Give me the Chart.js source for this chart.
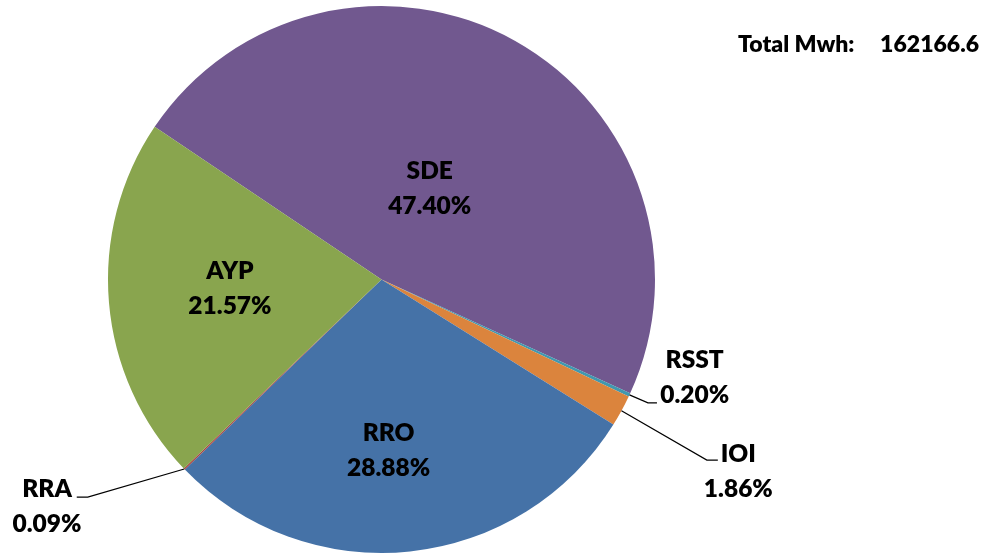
<!DOCTYPE html>
<html>
<head>
<meta charset="utf-8">
<script src="https://cdn.jsdelivr.net/npm/chart.js@4"></script>
<style>
  html, body { margin: 0; padding: 0; background: #ffffff; }
  #wrap { position: relative; width: 992px; height: 555px; }
</style>
</head>
<body>
<div id="wrap"><canvas id="c"></canvas></div>
<script>
// ---- data ----
const categories = ['SDE', 'RSST', 'IOI', 'RRO', 'RRA', 'AYP'];
const shares = [47.40, 0.20, 1.86, 28.88, 0.09, 21.57];
const colors = ['#71588F', '#4198AF', '#DB843D', '#4572A7', '#AA4643', '#89A54E'];
const totalLabel = 'Total Mwh:';
const totalValue = '162166.6';

const FONT = '800 24.5px Lato, "Liberation Sans", sans-serif';
const TOTAL_FONT = '800 23px Lato, "Liberation Sans", sans-serif';
const CAP = 17;      // approx cap height
const LINE_GAP = 35; // distance between label line centers

// label placement: radius factor and angle nudge (deg) relative to slice mid angle
const labelPlacement = {
  SDE:  { r: 0.377, d: -1.4 },
  AYP:  { r: 0.555, d: 1.7 },
  RRO:  { r: 0.623, d: 3.6 },
  RSST: { r: 1.199, d: -7.7, leader: { dx: -37.7, dy: 26, elbow: -9 } },
  IOI:  { r: 1.48,  d: -0.5, leader: { dx: -20.5, dy: -10.5, elbow: -11 } },
  RRA:  { r: 1.476, d: 9.8,  leader: { dx: 29.7, dy: -8.5, elbow: 11 } }
};

const labelPlugin = {
  id: 'pieLabels',
  afterDraw(chart) {
    const ctx = chart.ctx;
    const meta = chart.getDatasetMeta(0);
    ctx.save();
    ctx.font = FONT;
    ctx.fillStyle = '#000000';
    ctx.textAlign = 'center';
    ctx.textBaseline = 'alphabetic';
    meta.data.forEach((arc, i) => {
      const name = categories[i];
      const p = labelPlacement[name];
      if (!p) return;
      const mid = (arc.startAngle + arc.endAngle) / 2;
      const R = arc.outerRadius;
      const a = mid + p.d * Math.PI / 180;
      const cx = arc.x + Math.cos(a) * R * p.r;
      const cy = arc.y + Math.sin(a) * R * p.r;
      if (p.leader) {
        const sx = arc.x + Math.cos(mid) * R;
        const sy = arc.y + Math.sin(mid) * R;
        const ex = cx + p.leader.dx;
        const ey = cy + p.leader.dy;
        ctx.beginPath();
        ctx.strokeStyle = '#000000';
        ctx.lineWidth = 1.2;
        ctx.moveTo(sx, sy);
        ctx.lineTo(ex + p.leader.elbow, ey);
        ctx.lineTo(ex, ey);
        ctx.stroke();
      }
      const pct = shares[i].toFixed(2) + '%';
      ctx.fillText(name, cx, cy - LINE_GAP / 2 + CAP / 2);
      ctx.fillText(pct, cx, cy + LINE_GAP / 2 + CAP / 2);
    });
    // total text
    ctx.font = TOTAL_FONT;
    ctx.textAlign = 'left';
    ctx.fillText(totalLabel, 738, 52);
    ctx.textAlign = 'right';
    ctx.fillText(totalValue, 979, 52);
    ctx.restore();
  }
};

new Chart(document.getElementById('c'), {
  type: 'pie',
  data: {
    labels: categories,
    datasets: [{
      data: shares,
      backgroundColor: colors,
      borderWidth: 0,
      hoverOffset: 0,
      offset: 0
    }]
  },
  options: {
    responsive: true,
    maintainAspectRatio: false,
    animation: false,
    rotation: -56.04,
    layout: { padding: { left: 108, top: 6, right: 337, bottom: 2 } },
    plugins: {
      legend: { display: false },
      tooltip: { enabled: false }
    },
    events: []
  },
  plugins: [labelPlugin]
});
</script>
</body>
</html>
